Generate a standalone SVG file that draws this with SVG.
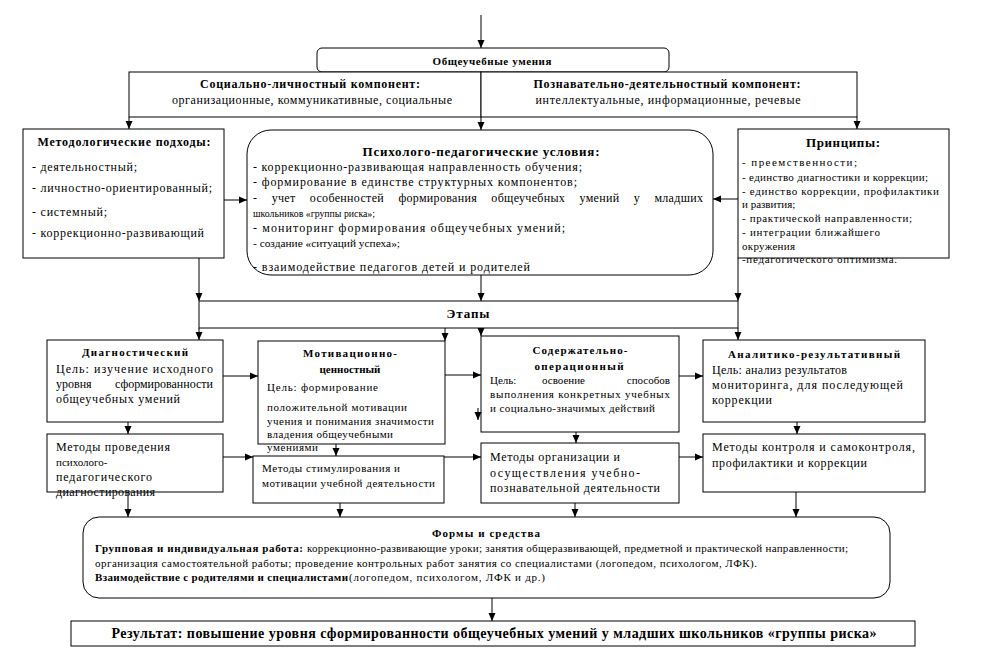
<svg xmlns="http://www.w3.org/2000/svg" width="985" height="658" viewBox="0 0 985 658">
<defs>
<marker id="ah" viewBox="0 0 8 8" refX="8" refY="4" markerWidth="8" markerHeight="8" markerUnits="userSpaceOnUse" orient="auto">
<path d="M0,0.5 L8,4 L0,7.5 Z" fill="#000"/>
</marker>
<style>
text{fill:#000}
.r12{font-size:12px}
.r11{font-size:11px}
.b11{font-size:11px;font-weight:bold}
.b12{font-size:12px;font-weight:bold}
.b13{font-size:13px;font-weight:bold}
.b14{font-size:14px;font-weight:bold}
.box{fill:#fff;stroke:#000;stroke-width:1}
.nf{fill:none}
.c line{stroke:#000;stroke-width:1;fill:none}
.c .a{marker-end:url(#ah)}
</style>
</defs>
<rect width="985" height="658" fill="#fff"/>
<g font-family="'Liberation Serif', 'Times New Roman', serif">

<g id="n-obshcheuchebnye">
<rect class="box" x="317" y="48" width="352" height="24" rx="5"/>
<text class="b11" x="492" y="65" text-anchor="middle" textLength="119" lengthAdjust="spacing">Общеучебные умения</text>
</g>

<g id="n-social">
<rect class="box" x="129" y="72" width="352" height="45"/>
<text class="b12" x="310" y="88" text-anchor="middle" textLength="220" lengthAdjust="spacing">Социально-личностный компонент:</text>
<text class="r12" x="312" y="104" text-anchor="middle" textLength="280" lengthAdjust="spacing">организационные, коммуникативные, социальные</text>
</g>

<g id="n-poznav">
<rect class="box" x="481" y="72" width="376" height="45"/>
<text class="b12" x="667" y="88" text-anchor="middle" textLength="267" lengthAdjust="spacing">Познавательно-деятельностный компонент:</text>
<text class="r12" x="668" y="104" text-anchor="middle" textLength="265" lengthAdjust="spacing">интеллектуальные, информационные, речевые</text>
</g>

<g id="n-metodolog">
<rect class="box" x="23" y="129" width="201" height="129"/>
<text class="b12" x="124" y="146" text-anchor="middle" textLength="173" lengthAdjust="spacing">Методологические подходы:</text>
<text class="r12" x="32" y="171" textLength="105" lengthAdjust="spacing">- деятельностный;</text>
<text class="r12" x="32" y="192" textLength="180" lengthAdjust="spacing">- личностно-ориентированный;</text>
<text class="r12" x="32" y="216" textLength="75" lengthAdjust="spacing">-  системный;</text>
<text class="r12" x="32" y="237" textLength="172" lengthAdjust="spacing">- коррекционно-развивающий</text>
</g>

<g id="n-usloviya">
<rect class="box" x="247" y="130" width="466" height="145" rx="24"/>
<text class="b13" x="481" y="156" text-anchor="middle" textLength="237" lengthAdjust="spacing">Психолого-педагогические условия:</text>
<text class="r12" x="253" y="171" textLength="329" lengthAdjust="spacing">- коррекционно-развивающая направленность обучения;</text>
<text class="r12" x="253" y="186" textLength="324" lengthAdjust="spacing">- формирование в единстве структурных компонентов;</text>
<text class="r12" x="253" y="202" style="word-spacing:11px" textLength="450" lengthAdjust="spacing">- учет особенностей формирования общеучебных умений у младших</text>
<text class="r11" x="253" y="217" textLength="122" lengthAdjust="spacingAndGlyphs">школьников «группы риска»;</text>
<text class="r12" x="253" y="232" textLength="312" lengthAdjust="spacing">- мониторинг формирования общеучебных умений;</text>
<text class="r11" x="253" y="247" textLength="147" lengthAdjust="spacingAndGlyphs">- создание «ситуаций успеха»;</text>
<text class="r12" x="253" y="271" textLength="277" lengthAdjust="spacing">- взаимодействие педагогов детей и родителей</text>
</g>

<g id="n-principy">
<text class="r11" x="742" y="263" textLength="155" lengthAdjust="spacing">-педагогического оптимизма.</text>
<rect class="box nf" x="738" y="129" width="211" height="129" style="fill:none"/>
<text class="b13" x="843" y="147" text-anchor="middle" textLength="74" lengthAdjust="spacing">Принципы:</text>
<text class="r11" x="742" y="166" textLength="115" lengthAdjust="spacing">- преемственности;</text>
<text class="r11" x="742" y="181" textLength="186" lengthAdjust="spacing">- единство диагностики и коррекции;</text>
<text class="r11" x="742" y="195" textLength="197" lengthAdjust="spacing">- единство коррекции, профилактики</text>
<text class="r11" x="742" y="208">и развития;</text>
<text class="r11" x="742" y="222" textLength="170" lengthAdjust="spacing">- практической направленности;</text>
<text class="r11" x="742" y="236" textLength="138" lengthAdjust="spacing">- интеграции ближайшего</text>
<text class="r11" x="742" y="250" textLength="53" lengthAdjust="spacing">окружения</text>
</g>

<g id="n-etapy">
<rect class="box" x="199" y="301" width="539" height="27"/>
<text class="b13" x="468" y="318" text-anchor="middle" textLength="43" lengthAdjust="spacing">Этапы</text>
</g>

<g id="n-diagn">
<rect class="box" x="47" y="340" width="176" height="82"/>
<text class="b11" x="135" y="356" text-anchor="middle" textLength="106" lengthAdjust="spacing">Диагностический</text>
<text class="r12" x="56" y="373" textLength="157" lengthAdjust="spacing">Цель: изучение исходного</text>
<text class="r12" y="388"><tspan x="56">уровня</tspan><tspan x="213" text-anchor="end">сформированности</tspan></text>
<text class="r12" x="56" y="403" textLength="124" lengthAdjust="spacing">общеучебных умений</text>
</g>

<g id="n-motiv">
<rect class="box" x="258" y="341" width="187" height="103"/>
<text class="b11" x="350" y="357" text-anchor="middle" textLength="94" lengthAdjust="spacing">Мотивационно-</text>
<text class="b11" x="350" y="373" text-anchor="middle">ценностный</text>
<text class="r11" x="267" y="391" textLength="111" lengthAdjust="spacing">Цель:  формирование</text>
<text class="r11" x="267" y="411" textLength="140" lengthAdjust="spacing">положительной  мотивации</text>
<text class="r11" x="267" y="425" textLength="167" lengthAdjust="spacing">учения и понимания значимости</text>
<text class="r11" x="267" y="438" textLength="126" lengthAdjust="spacing">владения общеучебными</text>
<text class="r11" x="267" y="451" textLength="51" lengthAdjust="spacing">умениями</text>
</g>

<g id="n-soderzh">
<rect class="box" x="481" y="336" width="198" height="96"/>
<text class="b11" x="580" y="354" text-anchor="middle" textLength="95" lengthAdjust="spacing">Содержательно-</text>
<text class="b11" x="579" y="370" text-anchor="middle" textLength="89" lengthAdjust="spacing">операционный</text>
<text class="r11" y="384"><tspan x="490">Цель:</tspan><tspan x="542">освоение</tspan><tspan x="670" text-anchor="end">способов</tspan></text>
<text class="r11" x="490" y="398" textLength="180" lengthAdjust="spacing">выполнения  конкретных  учебных</text>
<text class="r11" x="490" y="412" textLength="165" lengthAdjust="spacing">и социально-значимых действий</text>
</g>

<g id="n-analit">
<rect class="box" x="703" y="340" width="222" height="82"/>
<text class="b11" x="814" y="358" text-anchor="middle" textLength="172" lengthAdjust="spacing">Аналитико-результативный</text>
<text class="r12" x="712" y="374" textLength="135" lengthAdjust="spacing">Цель: анализ результатов</text>
<text class="r12" x="712" y="389" textLength="191" lengthAdjust="spacing">мониторинга, для последующей</text>
<text class="r12" x="712" y="404" textLength="60" lengthAdjust="spacing">коррекции</text>
</g>

<g id="n-met-diagn">
<text class="r12" x="56" y="496" textLength="99" lengthAdjust="spacing">диагностирования</text>
<rect class="box nf" x="47" y="434" width="176" height="58" style="fill:none"/>
<text class="r12" x="56" y="451" textLength="114" lengthAdjust="spacing">Методы проведения</text>
<text class="r11" x="56" y="466">психолого-</text>
<text class="r12" x="56" y="481" textLength="96" lengthAdjust="spacing">педагогического</text>
</g>

<g id="n-met-stim">
<rect class="box" x="253" y="456" width="191" height="47"/>
<text class="r11" x="262" y="472" textLength="138" lengthAdjust="spacing">Методы стимулирования и</text>
<text class="r11" x="262" y="487" textLength="173" lengthAdjust="spacing">мотивации учебной деятельности</text>
</g>

<g id="n-met-org">
<rect class="box" x="481" y="443" width="198" height="60"/>
<text class="r12" x="490" y="461" textLength="130" lengthAdjust="spacing">Методы организации и</text>
<text class="r12" x="490" y="477" textLength="150" lengthAdjust="spacing">осуществления учебно-</text>
<text class="r12" x="490" y="492" textLength="170" lengthAdjust="spacing">познавательной деятельности</text>
</g>

<g id="n-met-kontr">
<rect class="box" x="703" y="434" width="222" height="58"/>
<text class="r12" x="712" y="451" textLength="203" lengthAdjust="spacing">Методы контроля и  самоконтроля,</text>
<text class="r12" x="712" y="467" textLength="155" lengthAdjust="spacing">профилактики и коррекции</text>
</g>

<g id="n-formy">
<rect class="box" x="83" y="517" width="807" height="81" rx="16"/>
<text class="b11" x="486" y="537" text-anchor="middle" textLength="108" lengthAdjust="spacing">Формы и средства</text>
<text class="b11" x="95" y="552" textLength="208" lengthAdjust="spacing">Групповая и индивидуальная работа:</text>
<text class="r11" x="307" y="552" textLength="541" lengthAdjust="spacing">коррекционно-развивающие уроки; занятия общеразвивающей, предметной и практической направленности;</text>
<text class="r11" x="95" y="567" textLength="662" lengthAdjust="spacing">организация самостоятельной работы; проведение контрольных работ занятия со специалистами (логопедом, психологом, ЛФК).</text>
<text class="b11" x="95" y="581" textLength="253" lengthAdjust="spacing">Взаимодействие с родителями и специалистами</text>
<text class="r11" x="349" y="581" textLength="196" lengthAdjust="spacing">(логопедом, психологом, ЛФК и др.)</text>
</g>

<g id="n-result">
<rect class="box" x="71" y="621" width="844" height="25"/>
<text class="b14" x="494" y="638" text-anchor="middle" textLength="765" lengthAdjust="spacing">Результат: повышение уровня сформированности общеучебных умений у младших школьников «группы риска»</text>
</g>
</g>

<g id="connectors" class="c">
<line class="a" x1="481" y1="15" x2="481" y2="48"/>
<line class="a" x1="129" y1="117" x2="129" y2="129"/>
<line class="a" x1="857" y1="117" x2="857" y2="129"/>
<line class="a" x1="481" y1="117" x2="481" y2="130"/>
<line class="a" x1="224" y1="200" x2="247" y2="200"/>
<line class="a" x1="738" y1="199" x2="713" y2="199"/>
<line class="a" x1="199" y1="258" x2="199" y2="301"/>
<line class="a" x1="481" y1="275" x2="481" y2="301"/>
<line class="a" x1="738" y1="258" x2="738" y2="301"/>
<line class="a" x1="199" y1="328" x2="199" y2="340"/>
<line class="a" x1="445" y1="328" x2="445" y2="341"/>
<line class="a" x1="481" y1="328" x2="481" y2="336"/>
<line class="a" x1="738" y1="328" x2="738" y2="340"/>
<line class="a" x1="478" y1="408" x2="478" y2="420"/>
<line class="a" x1="223" y1="376" x2="258" y2="376"/>
<line class="a" x1="445" y1="375" x2="481" y2="375"/>
<line class="a" x1="679" y1="376" x2="703" y2="376"/>
<line class="a" x1="128" y1="422" x2="128" y2="434"/>
<line class="a" x1="336" y1="444" x2="336" y2="456"/>
<line class="a" x1="576" y1="432" x2="576" y2="443"/>
<line class="a" x1="797" y1="422" x2="797" y2="434"/>
<line class="a" x1="223" y1="457" x2="253" y2="457"/>
<line class="a" x1="444" y1="457" x2="481" y2="457"/>
<line class="a" x1="679" y1="457" x2="703" y2="457"/>
<line class="a" x1="128" y1="492" x2="128" y2="517"/>
<line class="a" x1="340" y1="503" x2="340" y2="517"/>
<line class="a" x1="575" y1="503" x2="575" y2="517"/>
<line class="a" x1="796" y1="492" x2="796" y2="517"/>
<line class="a" x1="492" y1="598" x2="492" y2="621"/>
</g>
</svg>
